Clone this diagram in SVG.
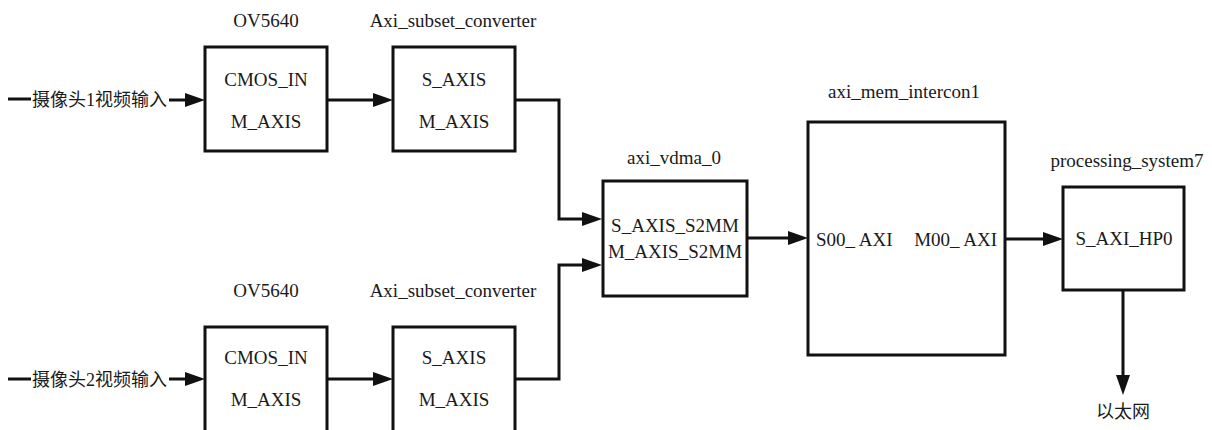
<svg xmlns="http://www.w3.org/2000/svg" width="1212" height="430" viewBox="0 0 1212 430">
<style>
.box{fill:#fff;stroke:#111;stroke-width:3}
.t{font-family:'Liberation Serif','Times New Roman','DejaVu Serif',serif;font-size:19px;fill:#1a1a1a}
.c{text-anchor:middle}
.cjk{font-family:'Liberation Serif','Noto Sans CJK SC',serif;font-size:18px;fill:#1a1a1a}
.ln{fill:none;stroke:#111;stroke-width:3}
</style>
<defs>
<marker id="ah" markerUnits="userSpaceOnUse" markerWidth="22" markerHeight="16" refX="7" refY="7" orient="auto">
<path d="M0,0 L20,7 L0,14 Z" fill="#111"/>
</marker>
</defs>
<rect width="1212" height="430" fill="#fff"/>

<g id="ov5640_top">
<text class="t c" x="266" y="27">OV5640</text>
<rect class="box" x="205" y="47" width="122" height="104"/>
<text class="t c" x="266" y="86">CMOS_IN</text>
<text class="t c" x="266" y="128">M_AXIS</text>
</g>
<g id="conv_top">
<text class="t c" x="453" y="27">Axi_subset_converter</text>
<rect class="box" x="393" y="47" width="122" height="104"/>
<text class="t c" x="454" y="86">S_AXIS</text>
<text class="t c" x="454" y="128">M_AXIS</text>
</g>
<g id="ov5640_bot">
<text class="t c" x="266" y="297">OV5640</text>
<rect class="box" x="205" y="327" width="122" height="110"/>
<text class="t c" x="266" y="364">CMOS_IN</text>
<text class="t c" x="266" y="406">M_AXIS</text>
</g>
<g id="conv_bot">
<text class="t c" x="453" y="297">Axi_subset_converter</text>
<rect class="box" x="393" y="327" width="122" height="110"/>
<text class="t c" x="454" y="364">S_AXIS</text>
<text class="t c" x="454" y="406">M_AXIS</text>
</g>
<g id="vdma">
<text class="t c" x="674" y="164">axi_vdma_0</text>
<rect class="box" x="603" y="181" width="144" height="115"/>
<text class="t c" x="675" y="232">S_AXIS_S2MM</text>
<text class="t c" x="675" y="258">M_AXIS_S2MM</text>
</g>
<g id="mem">
<text class="t c" x="904" y="98">axi_mem_intercon1</text>
<rect class="box" x="808" y="122" width="197" height="233"/>
<text class="t" x="816" y="246">S00_ AXI</text>
<text class="t" x="997" y="246" text-anchor="end">M00_ AXI</text>
</g>
<g id="ps">
<text class="t c" x="1127" y="167">processing_system7</text>
<rect class="box" x="1063" y="187" width="121" height="103"/>
<text class="t c" x="1124" y="245">S_AXI_HP0</text>
</g>
<g id="inputs">
<text class="cjk" x="32" y="106">摄像头1视频输入</text>
<text class="cjk" x="32" y="386">摄像头2视频输入</text>
<text class="cjk c" x="1123" y="418">以太网</text>
</g>

<g id="connectors">
<line class="ln" x1="8" y1="99" x2="31" y2="99"/>
<line class="ln" x1="169" y1="100" x2="192" y2="100" marker-end="url(#ah)"/>
<line class="ln" x1="327" y1="100" x2="380" y2="100" marker-end="url(#ah)"/>
<polyline class="ln" points="515,100 559,100 559,219 589,219" marker-end="url(#ah)"/>
<line class="ln" x1="8" y1="379" x2="31" y2="379"/>
<line class="ln" x1="169" y1="379" x2="192" y2="379" marker-end="url(#ah)"/>
<line class="ln" x1="327" y1="379" x2="380" y2="379" marker-end="url(#ah)"/>
<polyline class="ln" points="515,379 559,379 559,265 589,265" marker-end="url(#ah)"/>
<line class="ln" x1="747" y1="238" x2="795" y2="238" marker-end="url(#ah)"/>
<line class="ln" x1="1005" y1="239" x2="1050" y2="239" marker-end="url(#ah)"/>
<line class="ln" x1="1123" y1="290" x2="1123" y2="382" marker-end="url(#ah)"/>
</g>
</svg>
